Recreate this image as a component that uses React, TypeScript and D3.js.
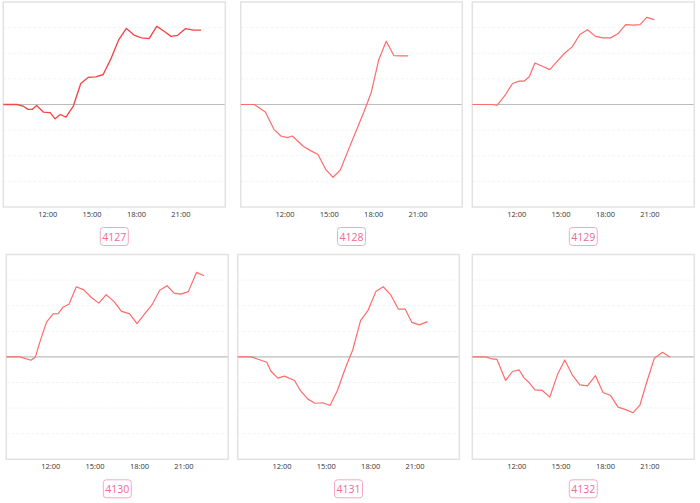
import React from "react";
import * as d3 from "d3";

// shared timestamps (HH:MM)
const TIMES = [
  "09:00", "09:55", "10:20", "10:40", "10:58", "11:15", "11:43", "12:10", "12:30", "12:51",
  "13:14", "13:44", "14:14", "14:45", "15:15", "15:45", "16:16", "16:47", "17:19", "17:50",
  "18:21", "18:51", "19:22", "19:52", "20:20", "20:47", "21:18", "21:51", "22:22",
];

const S4127 = [0, 0, -0.06, -0.19, -0.19, -0.04, -0.3, -0.32, -0.56, -0.39, -0.49, -0.06, 0.82, 1.06, 1.08, 1.17, 1.78, 2.51, 2.97, 2.71, 2.6, 2.57, 3.05, 2.86, 2.66, 2.7, 2.96, 2.9, 2.9];
const S4128 = [0, 0, null, -0.29, null, -0.97, -1.23, -1.29, -1.23, null, -1.63, -1.8, -1.95, -2.53, -2.84, -2.55, -1.8, -1.07, -0.32, 0.46, 1.76, 2.47, 1.91, 1.9, 1.9, null, null, null, null];
const S4129 = [0, 0, 0, -0.03, null, 0.39, 0.82, 0.91, 0.91, 1.08, 1.62, 1.49, 1.36, 1.69, 2.01, 2.25, 2.73, 2.92, 2.66, 2.6, 2.6, 2.77, 3.12, 3.1, 3.12, 3.4, 3.31, null, null];
const S4130 = [0, 0, null, -0.13, 0, 0.55, 1.36, 1.68, 1.69, 1.95, 2.06, 2.74, 2.62, 2.32, 2.1, 2.43, 2.17, 1.78, 1.69, 1.3, 1.68, 2.04, 2.6, 2.78, 2.49, 2.45, 2.55, 3.3, 3.17];
const S4131 = [0, 0, -0.08, null, -0.21, -0.56, -0.83, -0.75, null, -0.92, -1.31, -1.64, -1.81, -1.79, -1.9, -1.31, -0.47, 0.27, 1.42, 1.83, 2.55, 2.74, 2.42, 1.87, 1.87, 1.35, 1.25, 1.38, null];
const S4132 = [0, 0, -0.08, -0.1, null, -0.92, -0.57, -0.51, -0.82, -1.01, -1.29, -1.31, -1.57, -0.7, -0.12, -0.7, -1.09, -1.13, -0.73, -1.39, -1.51, -1.96, -2.06, -2.18, -1.87, -0.99, -0.05, 0.18, -0.01];

const LABELS = ["4127", "4128", "4129", "4130", "4131", "4132"];
const SERIES = [S4127, S4128, S4129, S4130, S4131, S4132];
const TICKS = ["12:00", "15:00", "18:00", "21:00"];
const Y_DOMAIN = [-4, 4];
const X_DOMAIN = ["09:00", "24:00"];

// layout of panels
const PANELS = [
  { x0: 3.3, x1: 225.3, y0: 2, y1: 207 },
  { x0: 240.7, x1: 462.3, y0: 2, y1: 207 },
  { x0: 472.3, x1: 694.3, y0: 2, y1: 207 },
  { x0: 6.3, x1: 228.3, y0: 254.5, y1: 459.3 },
  { x0: 237.7, x1: 459.3, y0: 254.5, y1: 459.3 },
  { x0: 472.3, x1: 694.3, y0: 254.5, y1: 459.3 },
];

const toHours = (s: string) => {
  const [h, m] = s.split(":").map(Number);
  return h + m / 60;
};

function Panel({ idx }: { idx: number }) {
  const p = PANELS[idx];
  const values = SERIES[idx];
  const x = d3.scaleLinear().domain(X_DOMAIN.map(toHours)).range([p.x0, p.x1]);
  const y = d3.scaleLinear().domain(Y_DOMAIN).range([p.y1, p.y0]);
  const pts = TIMES.map((t, i) => ({ t: toHours(t), v: values[i] })).filter(
    (d) => d.v !== null && d.v !== undefined
  ) as { t: number; v: number }[];
  const line = d3
    .line<{ t: number; v: number }>()
    .x((d) => x(d.t))
    .y((d) => y(d.v));
  const grid = d3.range(Y_DOMAIN[0] + 1, Y_DOMAIN[1]).filter((g) => g !== 0);
  const cx = (p.x0 + p.x1) / 2;
  const first = idx === 0;
  return (
    <g>
      {grid.map((g) => (
        <line
          key={g}
          x1={p.x0}
          x2={p.x1}
          y1={y(g)}
          y2={y(g)}
          stroke="#f3f3f3"
          strokeWidth={1}
          strokeDasharray="3,2"
        />
      ))}
      <line x1={p.x0} x2={p.x1} y1={y(0)} y2={y(0)} stroke="#bdbdbd" strokeWidth={1.2} />
      <rect
        x={p.x0}
        y={p.y0}
        width={p.x1 - p.x0}
        height={p.y1 - p.y0}
        fill="none"
        stroke="#e2e2e2"
        strokeWidth={1.5}
      />
      <path
        d={line(pts) || ""}
        fill="none"
        stroke={first ? "#f54545" : "#ff6b6b"}
        strokeWidth={first ? 1.35 : 1.2}
        strokeLinejoin="round"
      />
      {TICKS.map((t) => (
        <text
          key={t}
          x={x(toHours(t))}
          y={p.y1 + 9.5}
          textAnchor="middle"
          fontSize={7.5}
          fontFamily="'Open Sans', sans-serif"
          fill="#333"
        >
          {t}
        </text>
      ))}
      <rect
        x={cx - 14}
        y={p.y1 + 20.5}
        width={28}
        height={18}
        rx={3}
        fill="#fff"
        stroke="#f7a9c2"
        strokeWidth={1}
      />
      <text
        x={cx}
        y={p.y1 + 33.5}
        textAnchor="middle"
        fontSize={10.5}
        fontFamily="'Open Sans', sans-serif"
        fill="#ec6b93"
      >
        {LABELS[idx]}
      </text>
    </g>
  );
}

export default function App() {
  return (
    <svg
      width={700}
      height={503}
      style={{ position: "absolute", left: 0, top: 0, background: "#fff" }}
    >
      {PANELS.map((_, i) => (
        <Panel key={i} idx={i} />
      ))}
    </svg>
  );
}
